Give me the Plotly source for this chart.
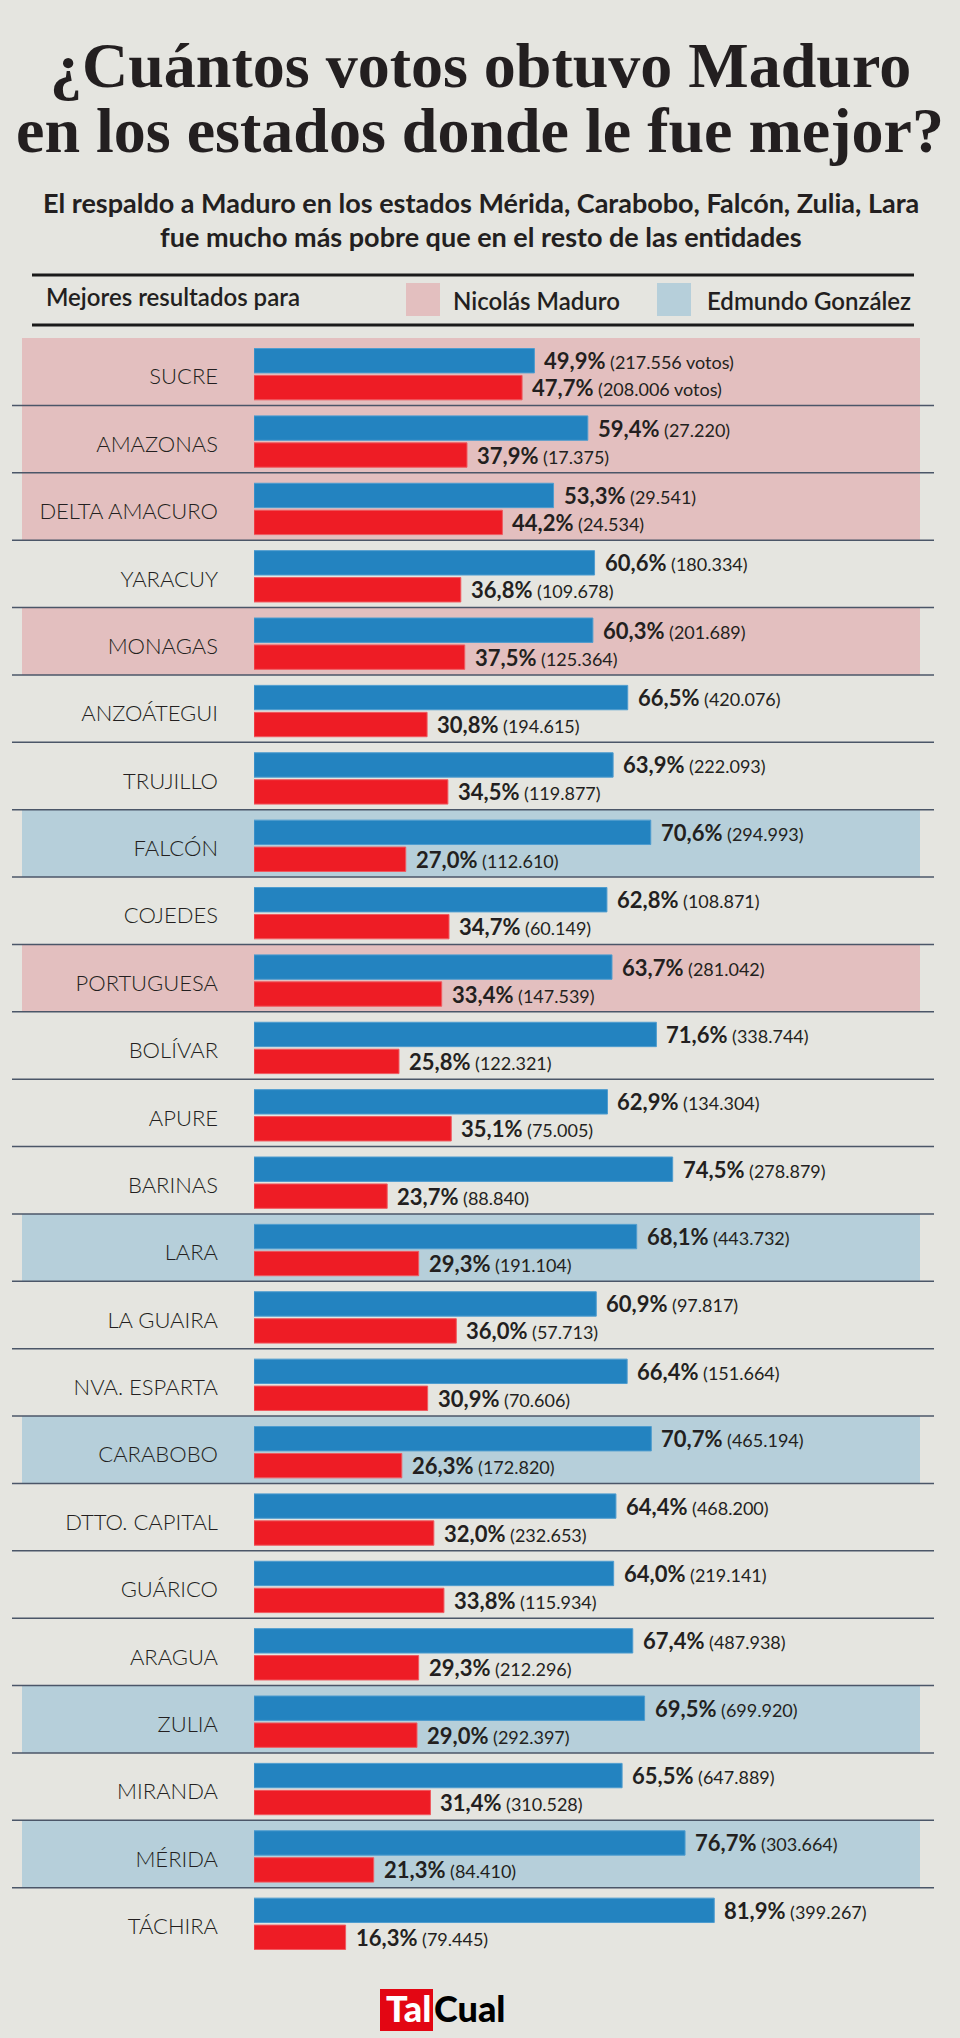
import plotly.graph_objects as go

# ---------------- data ----------------
states = ["SUCRE", "AMAZONAS", "DELTA AMACURO", "YARACUY", "MONAGAS", "ANZOÁTEGUI",
          "TRUJILLO", "FALCÓN", "COJEDES", "PORTUGUESA", "BOLÍVAR", "APURE", "BARINAS",
          "LARA", "LA GUAIRA", "NVA. ESPARTA", "CARABOBO", "DTTO. CAPITAL", "GUÁRICO",
          "ARAGUA", "ZULIA", "MIRANDA", "MÉRIDA", "TÁCHIRA"]
gonzalez_pct = [49.9, 59.4, 53.3, 60.6, 60.3, 66.5, 63.9, 70.6, 62.8, 63.7, 71.6, 62.9,
                74.5, 68.1, 60.9, 66.4, 70.7, 64.4, 64.0, 67.4, 69.5, 65.5, 76.7, 81.9]
gonzalez_votes = [217556, 27220, 29541, 180334, 201689, 420076, 222093, 294993, 108871,
                  281042, 338744, 134304, 278879, 443732, 97817, 151664, 465194, 468200,
                  219141, 487938, 699920, 647889, 303664, 399267]
maduro_pct = [47.7, 37.9, 44.2, 36.8, 37.5, 30.8, 34.5, 27.0, 34.7, 33.4, 25.8, 35.1,
              23.7, 29.3, 36.0, 30.9, 26.3, 32.0, 33.8, 29.3, 29.0, 31.4, 21.3, 16.3]
maduro_votes = [208006, 17375, 24534, 109678, 125364, 194615, 119877, 112610, 60149,
                147539, 122321, 75005, 88840, 191104, 57713, 70606, 172820, 232653,
                115934, 212296, 292397, 310528, 84410, 79445]
# best result for: "M" = Nicolás Maduro, "G" = Edmundo González, "" = none
highlight = ["M", "M", "M", "", "M", "", "", "G", "", "M", "", "", "", "G", "", "",
             "G", "", "", "", "G", "", "G", ""]

title_lines = ["¿Cuántos votos obtuvo Maduro", "en los estados donde le fue mejor?"]
subtitle_lines = ["El respaldo a Maduro en los estados Mérida, Carabobo, Falcón, Zulia, Lara",
                  "fue mucho más pobre que en el resto de las entidades"]
legend_title = "Mejores resultados para"
legend_names = {"M": "Nicolás Maduro", "G": "Edmundo González"}

# ---------------- style ----------------
W, H = 960, 2038
BG = "#E5E5E0"
PINK = "#E3BFBF"
LBLUE = "#B6CFDA"
BLUE = "#2383C0"
RED = "#EE1C25"
TXT = "#231F20"
SEP = "#4B5668"
M_L, M_R, M_T, M_B = 254, 26, 338, 83
PW = W - M_L - M_R
PH = H - M_T - M_B
XMAX = 121.0


def xp(px):
    return (px - M_L) / PW


def yp(py):
    return (H - M_B - py) / PH


def fmt_pct(v):
    return f"{v:.1f}".replace(".", ",") + "%"


def fmt_votes(v):
    return f"{v:,}".replace(",", ".")


n = len(states)
fig = go.Figure()
fig.add_trace(go.Bar(x=gonzalez_pct, y=states, orientation="h", width=0.362, offset=-0.344,
                     marker=dict(color=BLUE, line=dict(color="#4E9CCF", width=1)),
                     hoverinfo="skip", name="Edmundo González"))
fig.add_trace(go.Bar(x=maduro_pct, y=states, orientation="h", width=0.362, offset=0.056,
                     marker=dict(color=RED, line=dict(color="#F05A60", width=1)),
                     hoverinfo="skip", name="Nicolás Maduro"))

shapes = []
for i, h in enumerate(highlight):
    if h:
        shapes.append(dict(type="rect", xref="paper", yref="y", x0=xp(22), x1=xp(920),
                           y0=i - 0.5, y1=i + 0.5, fillcolor=PINK if h == "M" else LBLUE,
                           line=dict(width=0), layer="below"))
for i in range(n - 1):
    shapes.append(dict(type="line", xref="paper", yref="y", x0=xp(12), x1=xp(934),
                       y0=i + 0.5, y1=i + 0.5, line=dict(color=SEP, width=1.5), layer="above"))
# header rules
for py in (275, 325):
    shapes.append(dict(type="line", xref="paper", yref="paper", x0=xp(32), x1=xp(914),
                       y0=yp(py), y1=yp(py), line=dict(color="#1A1A1A", width=3)))
# legend swatches
shapes.append(dict(type="rect", xref="paper", yref="paper", x0=xp(406), x1=xp(440),
                   y0=yp(316), y1=yp(283), fillcolor=PINK, line=dict(width=0)))
shapes.append(dict(type="rect", xref="paper", yref="paper", x0=xp(657), x1=xp(691),
                   y0=yp(316), y1=yp(283), fillcolor=LBLUE, line=dict(width=0)))
# logo box
shapes.append(dict(type="rect", xref="paper", yref="paper", x0=xp(380), x1=xp(433),
                   y0=yp(2031), y1=yp(1989), fillcolor="#E30613", line=dict(width=0)))

ann = []
for i, s in enumerate(states):
    suffix = " votos" if i == 0 else ""
    ann.append(dict(x=gonzalez_pct[i], y=s, xref="x", yref="y", xanchor="left", yanchor="middle",
                    xshift=8, yshift=11, showarrow=False,
                    text=f"<b>{fmt_pct(gonzalez_pct[i])}</b><span style='font-size:18px'> ({fmt_votes(gonzalez_votes[i])}{suffix})</span>",
                    font=dict(family="Lato", size=22, color=TXT)))
    ann.append(dict(x=maduro_pct[i], y=s, xref="x", yref="y", xanchor="left", yanchor="middle",
                    xshift=8, yshift=-16, showarrow=False,
                    text=f"<b>{fmt_pct(maduro_pct[i])}</b><span style='font-size:18px'> ({fmt_votes(maduro_votes[i])}{suffix})</span>",
                    font=dict(family="Lato", size=22, color=TXT)))

# title
for line, mid in zip(title_lines, (65.5, 130.5)):
    ann.append(dict(x=xp(480), y=yp(mid), xref="paper", yref="paper", xanchor="center",
                    yanchor="middle", showarrow=False, text=f"<b>{line}</b>",
                    font=dict(family="Liberation Serif", size=64, color=TXT)))
for line, mid in zip(subtitle_lines, (202, 236)):
    ann.append(dict(x=xp(481), y=yp(mid), xref="paper", yref="paper", xanchor="center",
                    yanchor="middle", showarrow=False, text=line,
                    font=dict(family="Lato", size=27, color=TXT, weight=700)))
ann.append(dict(x=xp(44), y=yp(297), xref="paper", yref="paper", xanchor="left",
                yanchor="middle", showarrow=False, text=legend_title,
                font=dict(family="Lato", size=24, color=TXT, weight=600)))
ann.append(dict(x=xp(451), y=yp(301), xref="paper", yref="paper", xanchor="left",
                yanchor="middle", showarrow=False, text=legend_names["M"],
                font=dict(family="Lato", size=24, color=TXT, weight=600)))
ann.append(dict(x=xp(705), y=yp(301), xref="paper", yref="paper", xanchor="left",
                yanchor="middle", showarrow=False, text=legend_names["G"],
                font=dict(family="Lato", size=24, color=TXT, weight=600)))
# logo
ann.append(dict(x=xp(433), y=yp(2008), xref="paper", yref="paper", xanchor="right",
                yanchor="middle", showarrow=False, text="Tal",
                font=dict(family="Lato", size=36, color="white", weight=900)))
ann.append(dict(x=xp(432), y=yp(2008), xref="paper", yref="paper", xanchor="left",
                yanchor="middle", showarrow=False, text="Cual",
                font=dict(family="Lato", size=36, color="black", weight=900)))

fig.update_layout(
    width=W, height=H, margin=dict(l=M_L, r=M_R, t=M_T, b=M_B),
    paper_bgcolor=BG, plot_bgcolor="rgba(0,0,0,0)",
    barmode="overlay", showlegend=False, shapes=shapes, annotations=ann,
    xaxis=dict(range=[0, XMAX], visible=False, fixedrange=True),
    yaxis=dict(type="category", categoryorder="array", categoryarray=states,
               range=[n - 0.5, -0.5], showgrid=False, zeroline=False, showline=False,
               ticks="", ticklabelstandoff=35, ticklabelshift=-5,
               tickfont=dict(family="Lato", size=22, color=TXT, weight=300), fixedrange=True),
)

fig.write_html("out.html", config={"displayModeBar": False})
